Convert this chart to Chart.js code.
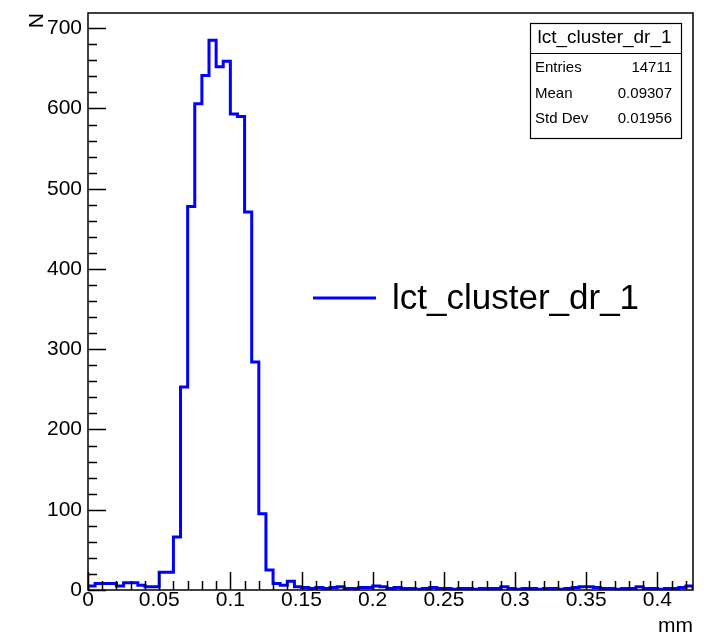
<!DOCTYPE html>
<html>
<head>
<meta charset="utf-8">
<title>lct_cluster_dr_1</title>
<script src="https://cdn.jsdelivr.net/npm/chart.js@4.4.0/dist/chart.umd.min.js"></script>
<style>
  html, body { margin: 0; padding: 0; background: #fff; }
  #wrap { width: 708px; height: 635px; }
</style>
</head>
<body>
<div id="wrap"><canvas id="drChart" width="708" height="635"></canvas></div>
<script>
// histogram definition: 85 bins over [0, 0.425] mm
const histName = 'lct_cluster_dr_1';
const xMin = 0;
const xMax = 0.425;
const yMax = 719;
const binCounts = [
  5, 8, 8, 8, 5, 9, 9, 6, 4, 4,
  22, 22, 66, 253, 478, 606, 641, 685, 652, 659,
  593, 590, 471, 284, 95, 25, 8, 6, 11, 4,
  3, 2, 3, 2, 3, 4, 2, 2, 3, 3,
  5, 4, 2, 3, 2, 2, 1, 2, 3, 2,
  2, 1, 2, 2, 1, 2, 2, 2, 4, 2,
  1, 2, 2, 1, 2, 2, 1, 2, 3, 4,
  4, 3, 2, 2, 1, 2, 2, 4, 2, 2,
  1, 2, 2, 3, 5
];
const xMajorStep = 0.05;
const xMinorStep = 0.01;
const yMajorStep = 100;
const yMinorStep = 20;
const statLabels = ['Entries', 'Mean', 'Std Dev'];
const statValues = ['14711', '0.09307', '0.01956'];

const FONT = "'Liberation Sans', Arial, Helvetica, sans-serif";
const BLUE = '#0000ff';

// outline points: each bin's low edge carries its count, closed down to zero at both ends
const binWidth = (xMax - xMin) / binCounts.length;
const outline = [{ x: xMin, y: 0 }];
binCounts.forEach((c, i) => outline.push({ x: xMin + i * binWidth, y: c }));
outline.push({ x: xMax, y: binCounts[binCounts.length - 1] });
outline.push({ x: xMax, y: 0 });

// keep the frame where the layout padding puts it
function fixBox(size) {
  return s => {
    if (s.isHorizontal()) s.height = size; else s.width = size;
    s.paddingTop = s.paddingBottom = s.paddingLeft = s.paddingRight = 0;
  };
}

// inside tick marks, frame, stats box and legend, ROOT style
const rootDecor = {
  id: 'rootDecor',
  afterDatasetsDraw(chart) {
    const { ctx, chartArea: a, scales: { x, y } } = chart;
    ctx.save();
    ctx.strokeStyle = '#000';
    ctx.lineWidth = 1.5;
    ctx.beginPath();
    for (let v = 0; v <= xMax + 1e-9; v += xMinorStep) {
      const px = Math.round(x.getPixelForValue(v)) + 0.5;
      const major = Math.abs(v / xMajorStep - Math.round(v / xMajorStep)) < 1e-6;
      ctx.moveTo(px, a.bottom);
      ctx.lineTo(px, a.bottom - (major ? 18 : 9));
    }
    for (let v = 0; v <= yMax; v += yMinorStep) {
      const py = Math.round(y.getPixelForValue(v)) + 0.5;
      ctx.moveTo(a.left, py);
      ctx.lineTo(a.left + (v % yMajorStep === 0 ? 18 : 9), py);
    }
    ctx.stroke();
    ctx.strokeRect(a.left, a.top, a.right - a.left, a.bottom - a.top);
    ctx.restore();
  },
  afterDraw(chart) {
    const { ctx } = chart;
    ctx.save();
    // stats box
    const bx = 530, by = 23, bw = 151, bh = 115;
    ctx.fillStyle = '#fff';
    ctx.fillRect(bx, by, bw, bh);
    ctx.strokeStyle = '#000';
    ctx.lineWidth = 1.2;
    ctx.strokeRect(bx + 0.5, by + 0.5, bw, bh);
    ctx.beginPath();
    ctx.moveTo(bx, by + 30.5);
    ctx.lineTo(bx + bw, by + 30.5);
    ctx.stroke();
    ctx.fillStyle = '#000';
    ctx.textBaseline = 'middle';
    ctx.textAlign = 'center';
    ctx.font = '19px ' + FONT;
    ctx.fillText(histName, bx + bw / 2 - 1, by + 15);
    ctx.font = '15px ' + FONT;
    const rowY = [68, 94, 119];
    statLabels.forEach((lab, i) => {
      ctx.textAlign = 'left';
      ctx.fillText(lab, bx + 5, rowY[i]);
      ctx.textAlign = 'right';
      ctx.fillText(statValues[i], bx + bw - 9, rowY[i]);
    });
    // legend
    const ds = chart.data.datasets[0];
    ctx.strokeStyle = ds.borderColor;
    ctx.lineWidth = 3;
    ctx.beginPath();
    ctx.moveTo(313, 298);
    ctx.lineTo(376, 298);
    ctx.stroke();
    ctx.fillStyle = '#000';
    ctx.textAlign = 'left';
    ctx.textBaseline = 'alphabetic';
    ctx.font = '35px ' + FONT;
    ctx.fillText(ds.label, 392, 309);
    ctx.restore();
  }
};

new Chart(document.getElementById('drChart'), {
  type: 'line',
  data: {
    datasets: [{
      label: histName,
      data: outline,
      stepped: 'before',
      borderColor: BLUE,
      borderWidth: 3,
      pointRadius: 0,
      fill: false,
      tension: 0
    }]
  },
  options: {
    responsive: false,
    animation: false,
    devicePixelRatio: 1,
    layout: { padding: { left: 0, right: 15, top: 13, bottom: 0 } },
    plugins: { legend: { display: false }, tooltip: { enabled: false } },
    scales: {
      x: {
        type: 'linear',
        min: xMin,
        max: xMax,
        afterFit: fixBox(45),
        grid: { display: false, drawTicks: false },
        border: { display: false },
        ticks: {
          stepSize: xMajorStep,
          includeBounds: false,
          autoSkip: false,
          maxRotation: 0,
          padding: 0,
          color: '#000',
          font: { family: FONT, size: 21, lineHeight: 1 },
          callback: v => String(+v.toFixed(3))
        },
        title: {
          display: true, text: 'mm', align: 'end', color: '#000',
          font: { family: FONT, size: 21, lineHeight: 0.8 },
          padding: { top: 0, bottom: 0 }
        }
      },
      y: {
        type: 'linear',
        min: 0,
        max: yMax,
        afterFit: fixBox(88),
        grid: { display: false, drawTicks: false },
        border: { display: false },
        ticks: {
          stepSize: yMajorStep,
          includeBounds: false,
          padding: 6,
          color: '#000',
          font: { family: FONT, size: 21 }
        },
        title: {
          display: true, text: 'N', align: 'end', color: '#000',
          font: { family: FONT, size: 21 },
          padding: { top: 25, bottom: 0 }
        }
      }
    }
  },
  plugins: [rootDecor]
});
</script>
</body>
</html>
